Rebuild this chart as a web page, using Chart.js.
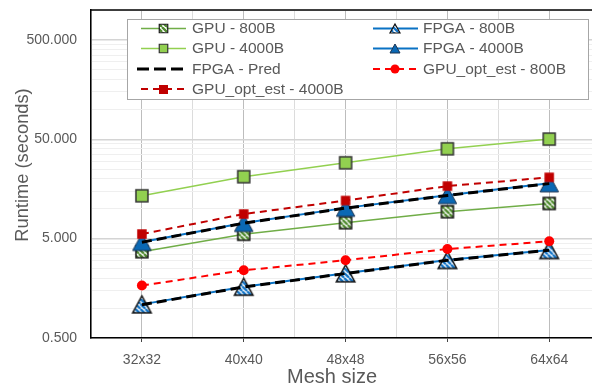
<!DOCTYPE html>
<html><head><meta charset="utf-8">
<script src="https://cdn.jsdelivr.net/npm/chart.js@4"></script>
<style>html,body{margin:0;padding:0;background:#fff;overflow:hidden}</style>
</head><body>
<canvas id="c" width="592" height="387"></canvas>
<script>
// ---- data ----
const categories = ['32x32', '40x40', '48x48', '56x56', '64x64'];
const gpu800 = [3.69, 5.53, 7.23, 9.33, 11.3];
const gpu4000 = [13.5, 21.0, 29.0, 40.1, 50.2];
const fpga800 = [1.09, 1.64, 2.24, 3.05, 3.84];
const fpga4000 = [4.62, 7.18, 10.2, 13.7, 18.0];
const fpgaPred800 = [1.08, 1.63, 2.23, 3.03, 3.82];
const fpgaPred4000 = [4.60, 7.15, 10.15, 13.6, 17.9];
const gpuOpt800 = [1.69, 2.40, 3.03, 3.93, 4.70];
const gpuOpt4000 = [5.56, 8.84, 12.1, 16.9, 20.7];
const yMajorTicks = [0.5, 5, 50, 500];
const yAxisMax = 1000;
const xTitle = 'Mesh size';
const yTitle = 'Runtime (seconds)';

const FONT = "'Liberation Sans', Arial, sans-serif";
const TXT = '#595959';

// ---- marker images (Excel-like shapes, centred on the data point) ----
function hatchPattern(ctx, color) {
  const n = 5;
  const c = document.createElement('canvas');
  c.width = n; c.height = n;
  const x = c.getContext('2d');
  x.fillStyle = '#fff'; x.fillRect(0, 0, n, n);
  x.strokeStyle = color; x.lineWidth = 2.3;
  x.beginPath();
  for (let k = -n; k <= n; k += n) { x.moveTo(k, 0); x.lineTo(k + n, n); }
  x.stroke();
  return ctx.createPattern(c, 'repeat');
}
function marker(shape, w, h, fill, hatchColor, stroke, lw) {
  const pad = 2;
  const c = document.createElement('canvas');
  c.width = Math.ceil(w + pad * 2); c.height = Math.ceil(h + pad * 2);
  const x = c.getContext('2d');
  const cx = c.width / 2, cy = c.height / 2;
  x.beginPath();
  if (shape === 'rect') x.rect(cx - w / 2, cy - h / 2, w, h);
  else { x.moveTo(cx, cy - h / 2); x.lineTo(cx + w / 2, cy + h / 2); x.lineTo(cx - w / 2, cy + h / 2); x.closePath(); }
  x.fillStyle = hatchColor ? hatchPattern(x, hatchColor) : fill;
  x.fill();
  if (lw) { x.lineJoin = 'miter'; x.lineWidth = lw; x.strokeStyle = stroke; x.stroke(); }
  return c;
}
const mk = {
  gpu800: marker('rect', 12, 12, null, '#4f8a2e', '#1a1a1a', 1.5),
  gpu4000: marker('rect', 12, 12, '#92d050', null, '#333', 1.5),
  fpga800: marker('tri', 18.5, 17, null, '#1173c6', '#111', 1.5),
  fpga4000: marker('tri', 18.5, 17, '#0a68b4', null, '#1b3350', 1),
  opt4000: marker('rect', 9.5, 9.5, '#c00000', null, null, 0),
  lgGpu800: marker('rect', 8.5, 8.5, null, '#4f8a2e', '#1a1a1a', 1.2),
  lgGpu4000: marker('rect', 8.5, 8.5, '#92d050', null, '#333', 1.2),
  lgFpga800: marker('tri', 10, 9, null, '#1173c6', '#111', 1.2),
  lgFpga4000: marker('tri', 10, 9, '#0a68b4', null, '#1b3350', 1),
  lgOpt4000: marker('rect', 9, 9, '#c00000', null, null, 0)
};

const xy = arr => arr.map((v, i) => ({x: i, y: v}));

const datasets = [
  {label: 'GPU - 800B', data: xy(gpu800), borderColor: '#70ad47', borderWidth: 1.5,
   pointStyle: mk.gpu800, order: 5, lg: {img: mk.lgGpu800}},
  {label: 'FPGA - 800B', data: xy(fpga800), borderColor: '#0a72c4', borderWidth: 2,
   pointStyle: mk.fpga800, order: 4, lg: {img: mk.lgFpga800}},
  {label: 'GPU - 4000B', data: xy(gpu4000), borderColor: '#92d050', borderWidth: 1.5,
   pointStyle: mk.gpu4000, order: 6, lg: {img: mk.lgGpu4000}},
  {label: 'FPGA - 4000B', data: xy(fpga4000), borderColor: '#0a72c4', borderWidth: 2,
   pointStyle: mk.fpga4000, order: 3, lg: {img: mk.lgFpga4000}},
  {label: 'FPGA - Pred', data: xy(fpgaPred4000), borderColor: '#000', borderWidth: 3, borderDash: [10, 5],
   pointRadius: 0, order: 2, lg: {dash: [12, 5]}},
  {label: 'GPU_opt_est - 800B', data: xy(gpuOpt800), borderColor: '#ff0000', borderWidth: 2, borderDash: [7, 5],
   pointStyle: 'circle', pointRadius: 5, pointBackgroundColor: '#ff0000', pointBorderColor: '#ff0000', pointBorderWidth: 0, order: 1,
   lg: {circle: 4.5, dash: [7, 5]}},
  {label: 'GPU_opt_est - 4000B', data: xy(gpuOpt4000), borderColor: '#c00000', borderWidth: 2, borderDash: [7, 5],
   pointStyle: mk.opt4000, order: 0, lg: {img: mk.lgOpt4000, dash: [7, 5]}},
  {label: 'FPGA - Pred', data: xy(fpgaPred800), borderColor: '#000', borderWidth: 3, borderDash: [10, 5],
   pointRadius: 0, order: 2, lg: null}
];
datasets.forEach(d => { d.tension = 0; d.fill = false; if (d.pointRadius === undefined) d.pointRadius = 8; });

// y ticks: major ticks and minor multiples inside each decade
const yTicks = [];
yMajorTicks.forEach(m => { for (let k = 1; k <= 9; k++) { const v = +(m * k).toPrecision(6); if (v <= yAxisMax) yTicks.push(v); } });
if (!yTicks.includes(yAxisMax)) yTicks.push(yAxisMax);
const isMajor = v => yMajorTicks.some(m => Math.abs(m - v) / m < 1e-9);

const decor = {
  id: 'decor',
  afterDraw(chart) {
    const ctx = chart.ctx, a = chart.chartArea;
    ctx.save();
    // top border
    ctx.strokeStyle = '#000'; ctx.lineWidth = 1.5;
    ctx.beginPath(); ctx.moveTo(a.left, a.top); ctx.lineTo(a.right, a.top); ctx.stroke();
    // axis titles
    ctx.fillStyle = TXT; ctx.textAlign = 'center'; ctx.textBaseline = 'middle';
    ctx.font = '20px ' + FONT;
    ctx.fillText(xTitle, 332, 377);
    ctx.save(); ctx.translate(23, 165); ctx.rotate(-Math.PI / 2);
    ctx.font = '18.3px ' + FONT; ctx.fillText(yTitle, 0, 0); ctx.restore();
    // legend box
    const bx = 127.5, by = 19.5, bw = 461, bh = 80;
    ctx.fillStyle = '#fff'; ctx.fillRect(bx, by, bw, bh);
    ctx.strokeStyle = '#a6a6a6'; ctx.lineWidth = 1; ctx.strokeRect(bx, by, bw, bh);
    const cols = [{l0: 141, l1: 186, mx: 163.5, tx: 192}, {l0: 373, l1: 418, mx: 395, tx: 423}];
    const rows = [28.5, 48.5, 69, 89];
    let idx = 0;
    chart.data.datasets.forEach(ds => {
      if (!ds.lg) return;
      const c = cols[idx % 2], y = rows[Math.floor(idx / 2)];
      idx++;
      ctx.save();
      ctx.strokeStyle = ds.borderColor; ctx.lineWidth = ds.borderWidth;
      ctx.setLineDash(ds.lg.dash || []);
      ctx.beginPath();
      const hasMarker = ds.lg.img || ds.lg.circle;
      const l0 = hasMarker ? c.l0 : c.l0 - 4;
      ctx.moveTo(l0, y); ctx.lineTo(c.l1, y); ctx.stroke();
      ctx.setLineDash([]);
      if (ds.lg.img) ctx.drawImage(ds.lg.img, Math.round(c.mx - ds.lg.img.width / 2), Math.round(y - ds.lg.img.height / 2));
      if (ds.lg.circle) { ctx.fillStyle = ds.pointBackgroundColor; ctx.beginPath(); ctx.arc(c.mx, y, ds.lg.circle, 0, Math.PI * 2); ctx.fill(); }
      ctx.restore();
      ctx.fillStyle = TXT; ctx.font = '15.5px ' + FONT; ctx.textAlign = 'left'; ctx.textBaseline = 'middle';
      ctx.fillText(ds.label, c.tx, y + 0.5);
    });
    ctx.restore();
  }
};

new Chart(document.getElementById('c'), {
  type: 'line',
  data: {datasets},
  plugins: [decor],
  options: {
    responsive: false, animation: false,
    layout: {autoPadding: false, padding: {top: 10, left: 0, right: 0, bottom: 0}},
    plugins: {legend: {display: false}, tooltip: {enabled: false}},
    scales: {
      x: {
        type: 'linear', min: -0.5, max: 4.42,
        afterBuildTicks: s => { s.ticks = [-0.5, 0, 0.5, 1, 1.5, 2, 2.5, 3, 3.5, 4].map(v => ({value: v})); },
        afterFit: s => { s.height = 49; s.paddingLeft = 0; s.paddingRight = 0; },
        border: {color: '#000', width: 1.5},
        grid: {
          color: c => Number.isInteger(c.tick.value) ? '#bdbdbd' : '#dcdcdc',
          lineWidth: 1, drawTicks: true, tickLength: 4,
          tickColor: c => Number.isInteger(c.tick.value) ? '#444' : 'rgba(0,0,0,0)'
        },
        ticks: {autoSkip: false, maxRotation: 0, padding: 10, color: TXT, font: {family: FONT, size: 14},
          callback: v => Number.isInteger(v) ? categories[v] : ''}
      },
      y: {
        type: 'logarithmic', min: yMajorTicks[0], max: yAxisMax,
        afterBuildTicks: s => { s.ticks = yTicks.map(v => ({value: v})); },
        afterFit: s => { s.width = 91; s.paddingTop = 0; s.paddingBottom = 0; },
        border: {color: '#000', width: 1.5},
        grid: {
          color: c => isMajor(c.tick.value) ? '#d4d4d4' : '#efefef',
          lineWidth: c => isMajor(c.tick.value) ? 1.5 : 1,
          drawTicks: false
        },
        ticks: {autoSkip: false, padding: 14, color: TXT, font: {family: FONT, size: 14},
          callback: v => isMajor(v) ? v.toFixed(3) : ''}
      }
    }
  }
});
</script>
</body></html>
